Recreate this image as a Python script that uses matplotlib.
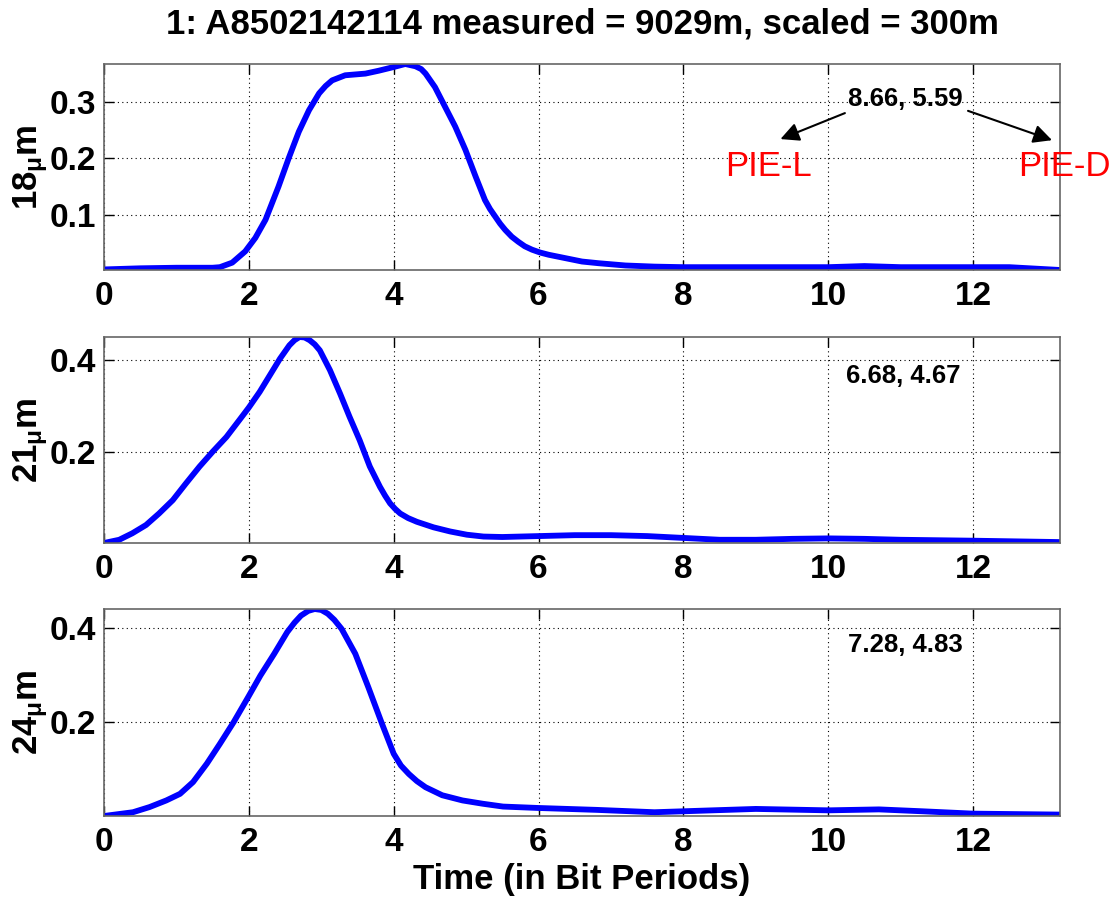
import matplotlib
matplotlib.use("Agg")
import matplotlib.pyplot as plt

plt.rcParams['font.family'] = ['Liberation Sans', 'DejaVu Sans']
plt.rcParams['font.weight'] = 'bold'
plt.rcParams['mathtext.default'] = 'regular'

title = "1: A8502142114 measured = 9029m, scaled = 300m"
xlabel = "Time (in Bit Periods)"
ylabels = [r"18$_{μ}$m", r"21$_{μ}$m", r"24$_{μ}$m"]
notes = ["8.66, 5.59", "6.68, 4.67", "7.28, 4.83"]
pie_labels = ["PIE-L", "PIE-D"]
xticks = [0, 2, 4, 6, 8, 10, 12]
yticks_list = [[0.1, 0.2, 0.3], [0.2, 0.4], [0.2, 0.4]]
ytick_labels = [["0.1", "0.2", "0.3"], ["0.2", "0.4"], ["0.2", "0.4"]]
x_max = 13.2

t18 = [0, 0.5, 1.0, 1.5, 1.6, 1.77, 1.95, 2.09, 2.23, 2.41, 2.55, 2.69, 2.83, 2.97, 3.06, 3.15,
       3.33, 3.61, 3.79, 3.98, 4.16, 4.30, 4.38, 4.44, 4.57, 4.71, 4.85, 4.99, 5.13, 5.26, 5.33,
       5.40, 5.47, 5.54, 5.63, 5.72, 5.81, 5.91, 6.02, 6.14, 6.37, 6.6, 6.83, 7.2, 7.6, 8, 9, 10,
       10.5, 11, 12, 12.5, 13.2]
v18 = [0.003, 0.005, 0.006, 0.006, 0.007, 0.015, 0.035, 0.059, 0.091, 0.15, 0.2, 0.247, 0.285,
       0.315, 0.328, 0.338, 0.347, 0.35, 0.355, 0.361, 0.367, 0.363, 0.358, 0.35, 0.326, 0.291,
       0.256, 0.215, 0.168, 0.126, 0.110, 0.097, 0.084, 0.073, 0.061, 0.052, 0.044, 0.038, 0.033,
       0.029, 0.023, 0.017, 0.014, 0.01, 0.008, 0.007, 0.007, 0.007, 0.009, 0.007, 0.007, 0.007,
       0.002]

t21 = [0, 0.21, 0.39, 0.58, 0.76, 0.95, 1.13, 1.32, 1.50, 1.69, 1.87, 2.0, 2.15, 2.29, 2.43, 2.56,
       2.63, 2.70, 2.77, 2.84, 2.91, 2.98, 3.12, 3.26, 3.39, 3.53, 3.67, 3.81, 3.88, 3.95, 4.02,
       4.09, 4.20, 4.32, 4.55, 4.78, 5.01, 5.24, 5.5, 6.0, 6.5, 7.0, 7.5, 8.0, 8.5, 9.0, 9.5, 10.0,
       10.5, 11.0, 12.0, 13.2]
v21 = [0.002, 0.009, 0.023, 0.041, 0.066, 0.095, 0.131, 0.168, 0.2, 0.232, 0.269, 0.296, 0.33,
       0.366, 0.402, 0.431, 0.442, 0.449, 0.448, 0.442, 0.433, 0.42, 0.377, 0.326, 0.276, 0.225,
       0.168, 0.124, 0.105, 0.088, 0.076, 0.066, 0.056, 0.048, 0.036, 0.027, 0.02, 0.016, 0.015,
       0.017, 0.019, 0.019, 0.017, 0.013, 0.009, 0.009, 0.011, 0.012, 0.011, 0.009, 0.007, 0.004]

t24 = [0, 0.40, 0.63, 0.86, 1.05, 1.23, 1.42, 1.60, 1.79, 1.99, 2.16, 2.35, 2.53, 2.63, 2.72,
       2.82, 2.91, 3.0, 3.09, 3.18, 3.28, 3.47, 3.65, 3.84, 4.0, 4.1, 4.21, 4.32, 4.44, 4.67, 4.95,
       5.23, 5.51, 6.0, 6.8, 7.6, 8.0, 9.0, 10.0, 10.7, 11.3, 12.0, 13.2]
v24 = [0.001, 0.009, 0.02, 0.034, 0.048, 0.073, 0.112, 0.154, 0.2, 0.253, 0.299, 0.345, 0.391,
       0.411, 0.426, 0.436, 0.44, 0.438, 0.43, 0.417, 0.398, 0.345, 0.274, 0.196, 0.133, 0.108,
       0.09, 0.075, 0.062, 0.045, 0.034, 0.027, 0.021, 0.018, 0.014, 0.009, 0.011, 0.016, 0.013,
       0.015, 0.011, 0.006, 0.004]

series = [(t18, v18), (t21, v21), (t24, v24)]

W, H = 1117, 900
fig = plt.figure(figsize=(W / 100, H / 100), dpi=100)
left, right = 104 / W, 1060 / W
boxes = [(64, 270), (337, 543), (609, 816)]

axes = []
for i, ((top, bot), (t, v)) in enumerate(zip(boxes, series)):
    ax = fig.add_axes([left, 1 - bot / H, right - left, (bot - top) / H])
    ax.plot(t, v, color=(0, 0, 1), lw=4.2, solid_capstyle='butt', solid_joinstyle='round')
    ax.set_xlim(0, x_max)
    ax.set_ylim(min(v), max(v))
    ax.set_xticks(xticks)
    ax.set_xticklabels([str(x) for x in xticks])
    ax.set_yticks(yticks_list[i])
    ax.set_yticklabels(ytick_labels[i])
    ax.grid(True, color='black', linestyle=(0, (1, 3)), lw=0.8)
    ax.tick_params(direction='in', length=7, width=1.0, top=True, right=True,
                   labelsize=24, colors='black')
    ax.tick_params(axis='x', pad=8)
    ax.tick_params(axis='y', pad=6)
    for lab in ax.get_xticklabels() + ax.get_yticklabels():
        lab.set_fontweight('bold')
    for s in ax.spines.values():
        s.set_color('#666666')
        s.set_linewidth(1.2)
    fig.text(31 / W, 1 - (top + bot) / 2 / H, ylabels[i], rotation=90, ha='center',
             va='center', fontsize=25, fontweight='bold')
    axes.append(ax)

# annotations
axes[0].text(11.06, 0.305, notes[0], ha='center', va='center', fontsize=18.5, fontweight='bold')
axes[1].text(11.04, 0.364, notes[1], ha='center', va='center', fontsize=18.5, fontweight='bold')
axes[2].text(11.06, 0.364, notes[2], ha='center', va='center', fontsize=18.5, fontweight='bold')

arrow_kw = dict(arrowstyle='-|>', mutation_scale=28, color='black', lw=1.5, shrinkA=0, shrinkB=0)
axes[0].annotate('', xy=(9.34, 0.234), xytext=(10.23, 0.28), arrowprops=arrow_kw,
                 annotation_clip=False)
axes[0].annotate('', xy=(13.09, 0.232), xytext=(11.93, 0.284), arrowprops=arrow_kw,
                 annotation_clip=False)
axes[0].text(8.58, 0.168, pie_labels[0], ha='left', va='baseline', fontsize=25,
             fontweight='normal', color='red', clip_on=False)
axes[0].text(12.62, 0.168, pie_labels[1], ha='left', va='baseline', fontsize=25,
             fontweight='normal', color='red', clip_on=False)

fig.text((104 + 1060) / 2 / W, 1 - 24 / H, title, ha='center', va='center',
         fontsize=25, fontweight='bold')
fig.text((104 + 1060) / 2 / W, 1 - 880 / H, xlabel, ha='center', va='center',
         fontsize=25, fontweight='bold')

fig.savefig('out.png', dpi=100, facecolor='white')
